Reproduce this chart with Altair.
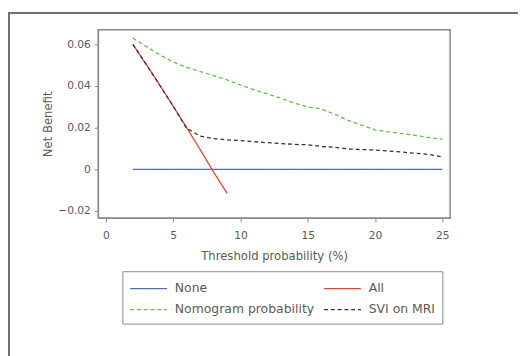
import altair as alt
import pandas as pd

thresholds = list(range(2, 26))
none_nb = [0.0] * len(thresholds)
all_x = [2, 3, 4, 5, 6, 7, 8, 9]
all_nb = [0.0600, 0.0503, 0.0404, 0.0303, 0.0200, 0.0095, -0.0013, -0.0115]
nomo_nb = [0.0630, 0.0590, 0.0550, 0.0515, 0.0490, 0.0470, 0.0450, 0.0430,
           0.0405, 0.0382, 0.0362, 0.0342, 0.0318, 0.0300, 0.0290, 0.0265,
           0.0235, 0.0212, 0.0190, 0.0180, 0.0172, 0.0163, 0.0153, 0.0145]
svi_nb = [0.0600, 0.0503, 0.0404, 0.0303, 0.0197, 0.0160, 0.0148, 0.0142,
          0.0138, 0.0133, 0.0128, 0.0124, 0.0120, 0.0118, 0.0110, 0.0106,
          0.0098, 0.0095, 0.0093, 0.0088, 0.0083, 0.0077, 0.0072, 0.0060]

series_names = ["None", "All", "Nomogram probability", "SVI on MRI"]
series_colors = ["#4b6cc0", "#ff3a2f", "#5fbf4a", "#333333"]
series_dash = [[1, 0], [1, 0], [4, 3], [4, 3]]

rows = []
for x, y in zip(thresholds, none_nb):
    rows.append({"x": x, "y": y, "s": "None"})
for x, y in zip(all_x, all_nb):
    rows.append({"x": x, "y": y, "s": "All"})
for x, y in zip(thresholds, nomo_nb):
    rows.append({"x": x, "y": y, "s": "Nomogram probability"})
for x, y in zip(thresholds, svi_nb):
    rows.append({"x": x, "y": y, "s": "SVI on MRI"})
df = pd.DataFrame(rows)

font = "DejaVu Sans"
grey = "#5a5a5a"

legend_opts = dict(title=None, orient="none", legendX=25, legendY=249,
                   columns=2, direction="horizontal",
                   symbolType="M-1,0H3", symbolSize=361, symbolStrokeWidth=1.3,
                   labelOffset=26)

lines = alt.Chart(df).mark_line(strokeWidth=1.3).encode(
    x=alt.X("x:Q", title="Threshold probability (%)",
            scale=alt.Scale(domain=[-0.58, 25.58], nice=False, zero=False),
            axis=alt.Axis(values=[0, 5, 10, 15, 20, 25], grid=False)),
    y=alt.Y("y:Q", title="Net Benefit",
            scale=alt.Scale(domain=[-0.0233, 0.067], nice=False, zero=False),
            axis=alt.Axis(values=[-0.02, 0, 0.02, 0.04, 0.06], grid=False,
                          labelExpr="datum.value == 0 ? '0' : format(datum.value, '.2f')")),
    color=alt.Color("s:N", sort=series_names,
                    scale=alt.Scale(domain=series_names, range=series_colors),
                    legend=alt.Legend(**legend_opts)),
    strokeDash=alt.StrokeDash("s:N", sort=series_names,
                              scale=alt.Scale(domain=series_names, range=series_dash),
                              legend=alt.Legend(**legend_opts)),
    detail="s:N",
)

frame = alt.Chart(df).mark_rect(fill=None, stroke="#707070", strokeWidth=1.2, clip=False).encode(
    x=alt.value(-92), x2=alt.value(460), y=alt.value(-17), y2=alt.value(360)
)

chart = alt.layer(frame, lines).properties(
    width=363, height=194,
    autosize=alt.AutoSizeParams(type="none"),
    padding={"left": 93, "top": 17, "right": 70, "bottom": 140},
).configure_view(stroke="#888888", strokeWidth=1.5).configure_axis(
    labelFont=font, titleFont=font, labelFontSize=11, titleFontSize=12,
    labelColor=grey, titleColor=grey, titleFontWeight="normal",
    domainColor="#888888", tickColor="#888888", tickSize=4,
).configure_axisY(titlePadding=3, labelPadding=4).configure_axisX(
    titlePadding=11, labelPadding=8
).configure_legend(
    labelFont=font, labelFontSize=12.8, labelColor=grey,
    strokeColor="#888888", padding=7, rowPadding=4, columnPadding=7,
)

chart.save("out.html", embed_options={"renderer": "svg", "actions": False})
